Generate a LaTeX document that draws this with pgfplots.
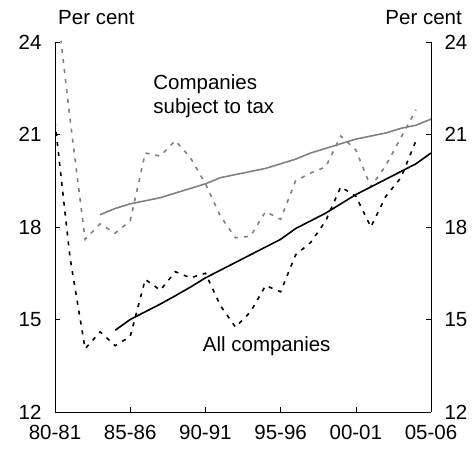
\documentclass[border=0pt]{standalone}
\usepackage{fontspec}
\setmainfont{Liberation Sans}
\usepackage{pgfplots}
\usepackage{pgfplotstable}
\pgfplotsset{compat=1.18}
\definecolor{tgrey}{RGB}{128,128,128}
\newcommand\cf{\fontsize{20.5}{24}\selectfont}

% k = 0 is 80-81
\pgfplotstableread{
k  v
0  25.7
1  21.5
2  17.6
3  18.1
4  17.8
5  18.2
6  20.4
7  20.3
8  20.8
9  20.25
10 19.4
11 18.35
12 17.65
13 17.7
14 18.5
15 18.25
16 19.5
17 19.75
18 19.95
19 20.95
20 20.5
21 19.3
22 20.0
23 20.9
24 21.8
}\taxed

\pgfplotstableread{
k  v
3  18.4
4  18.6
5  18.75
6  18.85
7  18.95
8  19.1
9  19.25
10 19.4
11 19.6
12 19.7
13 19.8
14 19.9
15 20.05
16 20.2
17 20.4
18 20.55
19 20.7
20 20.85
21 20.95
22 21.05
23 21.2
24 21.3
25 21.5
}\taxedtrend

\pgfplotstableread{
k  v
0  21.4
1  17.0
2  14.05
3  14.6
4  14.15
5  14.45
6  16.3
7  15.95
8  16.55
9  16.35
10 16.5
11 15.45
12 14.75
13 15.25
14 16.1
15 15.9
16 17.1
17 17.5
18 18.2
19 19.3
20 19.0
21 18.0
22 19.0
23 19.6
24 20.8
}\allco

\pgfplotstableread{
k  v
4  14.65
5  15.0
6  15.25
7  15.5
8  15.77
9  16.05
10 16.35
11 16.6
12 16.85
13 17.1
14 17.35
15 17.6
16 17.95
17 18.2
18 18.45
19 18.75
20 19.05
21 19.3
22 19.55
23 19.8
24 20.05
25 20.4
}\allcotrend

\begin{document}
\begin{tikzpicture}
\pgfplotsset{
  base/.style={
    width=376pt, height=370pt, scale only axis,
    xmin=0, xmax=25, ymin=12, ymax=24,
    ytick={12,15,...,24},
    tick align=inside, major tick length=5pt,
    tick style={black, line width=0.6pt},
    axis line style={-, line width=0.6pt},
    every tick label/.append style={font=\cf},
    /pgf/number format/assume math mode=true,
    clip mode=individual,
  }
}
\begin{axis}[base,
    axis x line*=bottom, axis y line*=left,
    xtick={0,5,...,25},
    xticklabels={80-81,85-86,90-91,95-96,00-01,05-06},
    xticklabel style={yshift=-10pt},
    yticklabel style={xshift=-10pt},
  ]
  \addplot[tgrey, line width=1.6pt, dash pattern=on 4pt off 6pt] table[x=k, y=v] {\taxed};
  \addplot[tgrey, line width=1.6pt] table[x=k, y=v] {\taxedtrend};
  \addplot[black, line width=1.6pt, dash pattern=on 4pt off 6pt] table[x=k, y=v] {\allco};
  \addplot[black, line width=1.6pt] table[x=k, y=v] {\allcotrend};

  \node[anchor=north west, align=left, inner sep=0pt, font=\cf] at (axis cs:6.53,22.95) {Companies\\subject to tax};
  \node[anchor=north west, inner sep=0pt, font=\cf] at (axis cs:9.82,14.45) {All companies};
  \node[anchor=base west, inner sep=0pt, font=\cf, xshift=3pt, yshift=17pt] at (rel axis cs:0,1) {Per cent};

  \coordinate (bbsw) at (rel axis cs:-0.1463,-0.1189);
  \coordinate (bbne) at (rel axis cs:1.109,1.1135);
\end{axis}
\begin{axis}[base,
    axis x line=none, axis y line*=right,
    yticklabel style={xshift=10pt},
  ]
  \node[anchor=base east, inner sep=0pt, font=\cf, xshift=31pt, yshift=17pt] at (rel axis cs:1,1) {Per cent};
\end{axis}
\path (bbsw) rectangle (bbne);
\end{tikzpicture}
\end{document}
